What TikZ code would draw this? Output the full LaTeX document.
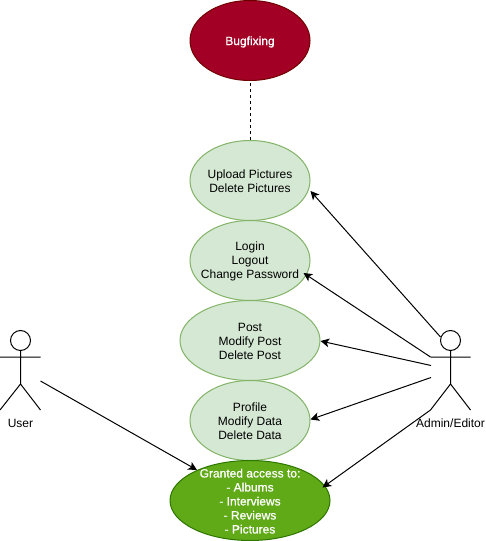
\documentclass[tikz,border=0pt]{standalone}
\usepackage{fontspec}
\setmainfont{Liberation Sans}
\newfontfamily\heavyface[FakeBold=0.8]{Liberation Sans}
\usetikzlibrary{shapes.geometric,arrows.meta}
\tikzset{
  x=0.75pt,y=-0.75pt,
  usecase/.style={ellipse,draw=#1,line width=0.75pt,inner sep=0pt,outer sep=0pt,minimum height=60pt},
  casetext/.style={font=\fontsize{9}{10.5}\selectfont,align=center,text=black,inner sep=0pt,yshift=-0.5pt},
  whitetext/.style={font=\fontsize{9}{10.5}\selectfont\heavyface,align=center,text=white,inner sep=0pt,yshift=-0.5pt},
  lightcase/.style={usecase=lightgreenline,fill=lightgreen,minimum width=90pt},
  link/.style={draw=black,line width=0.75pt,-{Stealth[length=6.5pt,width=6.5pt,inset=1.7pt]}},
  actorline/.style={draw=black,line width=0.75pt},
  actorhead/.style={circle,draw=black,line width=0.75pt,minimum size=15pt,inner sep=0pt,outer sep=0pt},
  actorname/.style={font=\fontsize{9}{10.5}\selectfont,inner sep=0pt},
}
\definecolor{lightgreen}{HTML}{D5E8D4}
\definecolor{lightgreenline}{HTML}{82B366}
\definecolor{crimson}{HTML}{A20025}
\definecolor{crimsonline}{HTML}{6F0000}
\definecolor{leaf}{HTML}{60A917}
\definecolor{leafline}{HTML}{2D7600}
\begin{document}
\begin{tikzpicture}
\useasboundingbox (0,0) rectangle (485,541);
% use cases
\node[usecase=crimsonline,fill=crimson,minimum width=90pt,label={[whitetext,yshift=-0.6pt]center:Bugfixing}] (bugfix) at (250,40.5) {};
\node[lightcase,label={[casetext]center:Upload Pictures\\Delete Pictures}] (upload) at (250,180.5) {};
\node[lightcase,label={[casetext]center:Login\\Logout\\Change Password}] (login) at (250,260.5) {};
\node[lightcase,minimum width=105pt,label={[casetext]center:Post\\Modify Post\\Delete Post}] (post) at (250,340.5) {};
\node[lightcase,label={[casetext]center:Profile\\Modify Data\\Delete Data}] (profile) at (250,420.5) {};
\node[usecase=leafline,fill=leaf,minimum width=120pt,label={[whitetext]center:Granted access to:\\- Albums\\- Interviews\\- Reviews\\- Pictures}] (granted) at (250,500.5) {};
% user actor
\node[actorhead] (userhead) at (20.5,340.5) {};
\coordinate (userhip) at (20.5,384);
\coordinate (userarml) at (0,357);
\coordinate (userarmr) at (40.5,357);
\coordinate (userlegl) at (0,410);
\coordinate (userlegr) at (40.5,410);
\coordinate (userout) at (40.5,381);
\draw[actorline] (userhead.south) -- (userhip) (userarml) -- (userarmr) (userlegl) -- (userhip) -- (userlegr);
\node[actorname] (username) at (20.5,423.5) {User};
% admin actor
\node[actorhead] (adminhead) at (450.5,340.5) {};
\coordinate (adminhip) at (450.5,384);
\coordinate (adminarml) at (430.5,357);
\coordinate (adminarmr) at (470.5,357);
\coordinate (adminlegl) at (430.5,410);
\coordinate (adminlegr) at (470.5,410);
\coordinate (adminout) at (440.5,337);
\coordinate (adminmida) at (431,365.5);
\coordinate (adminmidb) at (431,377.5);
\draw[actorline] (adminhead.south) -- (adminhip) (adminarml) -- (adminarmr) (adminlegl) -- (adminhip) -- (adminlegr);
\node[actorname] (adminname) at (450.5,423.5) {Admin/Editor};
% connectors
\draw[actorline,dash pattern=on 2.25pt off 2.25pt,dash phase=2.25pt] (bugfix.south) -- (upload.north);
\draw[link] (adminout) -- ([shift={(60.5,10.5)}]upload.center);
\draw[link] (adminarml) -- ([shift={(53.5,12.5)}]login.center);
\draw[link] (adminmida) -- ([shift={(70.5,0.5)}]post.center);
\draw[link] (adminmidb) -- ([shift={(60.5,-1)}]profile.center);
\draw[link] (adminlegl) -- ([shift={(72.5,-13)}]granted.center);
\draw[link] (userout) -- ([shift={(-53,-30.5)}]granted.center);
\end{tikzpicture}
\end{document}
